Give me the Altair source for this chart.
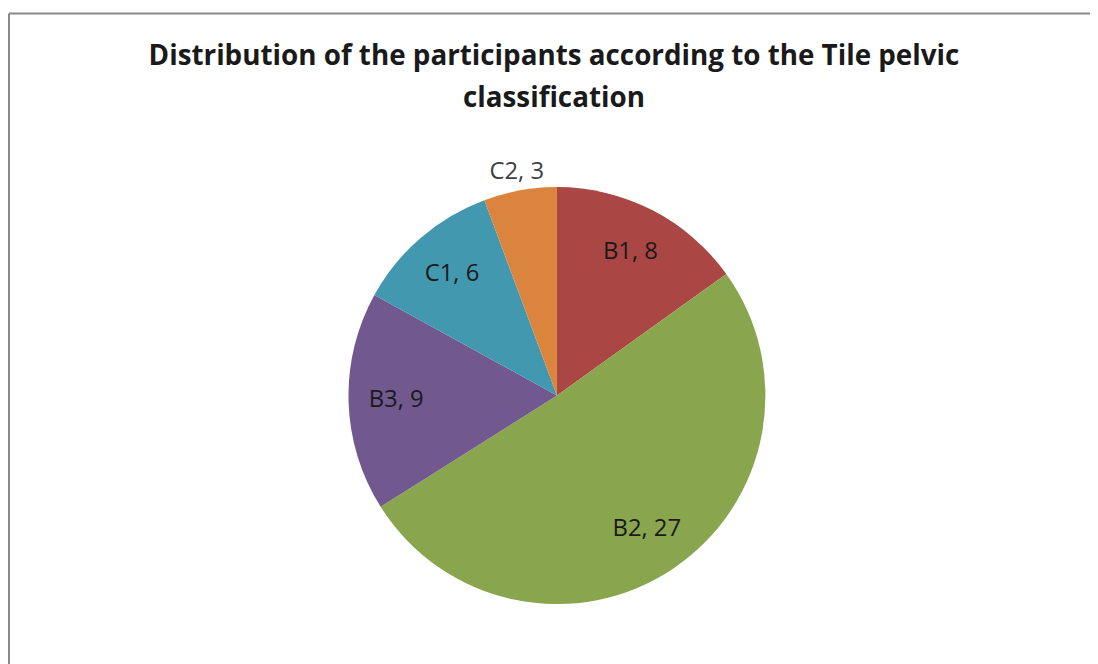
import altair as alt
import pandas as pd

categories = ["B1", "B2", "B3", "C1", "C2"]
counts = [8, 27, 9, 6, 3]
colors = ["#AA4643", "#89A54E", "#71588F", "#4198AF", "#DB843D"]
title_lines = ["Distribution of the participants according to the Tile pelvic", "classification"]

df = pd.DataFrame({"cat": categories, "n": counts, "order": list(range(len(categories)))})
df["label"] = df["cat"] + ", " + df["n"].astype(str)
tdf = pd.DataFrame({"line": title_lines, "idx": list(range(len(title_lines)))})

CX, CY, R = 553, 388, 210

base = alt.Chart(df)

pie = base.mark_arc(stroke=None).encode(
    theta=alt.Theta("n:Q", stack=True),
    order=alt.Order("order:Q"),
    color=alt.Color("cat:N", scale=alt.Scale(domain=categories, range=colors), legend=None),
    x=alt.value(CX), y=alt.value(CY), radius=alt.value(R),
)

inner = base.mark_text(font="Open Sans", fontSize=24, color="#1a1a1a", radius=162).encode(
    theta=alt.Theta("n:Q", stack=True),
    order=alt.Order("order:Q"),
    text="label:N",
    x=alt.value(CX), y=alt.value(CY),
    opacity=alt.condition("datum.n >= 5", alt.value(1), alt.value(0)),
)

outer = base.mark_text(font="Open Sans", fontSize=24, color="#404040", radius=229).encode(
    theta=alt.Theta("n:Q", stack=True),
    order=alt.Order("order:Q"),
    text="label:N",
    x=alt.value(CX), y=alt.value(CY),
    opacity=alt.condition("datum.n < 5", alt.value(1), alt.value(0)),
)

title = alt.Chart(tdf).mark_text(font="Open Sans", fontSize=28, fontWeight="bold",
                                 color="#1a1a1a", baseline="middle").encode(
    text="line:N",
    x=alt.value(550),
    y=alt.Y("idx:Q", scale=alt.Scale(domain=[0, 1], range=[47, 89]), axis=None),
)

top_rule = alt.Chart(pd.DataFrame({"a": [0]})).mark_rule(color="#8a8a8a", strokeWidth=2).encode(
    x=alt.value(1), x2=alt.value(1100), y=alt.value(3)
)
left_rule = alt.Chart(pd.DataFrame({"a": [0]})).mark_rule(color="#8a8a8a", strokeWidth=2).encode(
    x=alt.value(1), y=alt.value(3), y2=alt.value(700)
)

chart = alt.layer(top_rule, left_rule, pie, inner, outer, title).properties(
    width=1090, height=656,
    autosize=alt.AutoSizeParams(type="none"),
    padding=0,
).configure_view(stroke=None)

chart.save("out.html", embed_options={"renderer": "svg", "actions": False})
